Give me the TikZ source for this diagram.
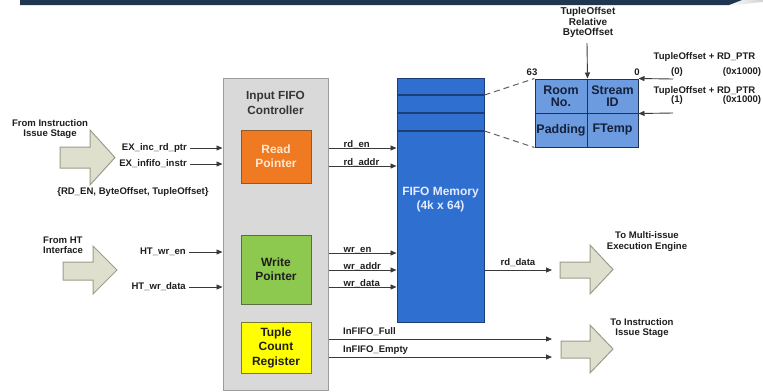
\documentclass[tikz,border=0pt]{standalone}
\usepackage{fontspec}
\setmainfont{Liberation Sans}
\usetikzlibrary{arrows.meta}
\definecolor{linec}{HTML}{3A3A3A}
\definecolor{txt}{HTML}{1E1E1E}
\definecolor{ctrlfill}{HTML}{D9D9D9}
\definecolor{ctrldraw}{HTML}{9C9C9C}
\definecolor{orfill}{HTML}{F07A22}
\definecolor{ordraw}{HTML}{8A5A30}
\definecolor{orText}{HTML}{FDE8D2}
\definecolor{grfill}{HTML}{8DC84F}
\definecolor{grdraw}{HTML}{5A6E40}
\definecolor{yefill}{HTML}{FFFF00}
\definecolor{yedraw}{HTML}{7A7A30}
\definecolor{memfill}{HTML}{2F6FCF}
\definecolor{memdraw}{HTML}{1C3E78}
\definecolor{memText}{HTML}{E4ECFF}
\definecolor{recfill}{HTML}{6C9BDF}
\definecolor{recdraw}{HTML}{23324E}
\definecolor{recText}{HTML}{15203A}
\definecolor{arrfill}{HTML}{DEDFCC}
\definecolor{arrdraw}{HTML}{9C9C8C}
\definecolor{banner}{HTML}{203650}
\begin{document}
\begin{tikzpicture}[x=1bp,y=-1bp,
  sig/.style={draw=linec, line width=0.9bp, -{Triangle[length=6bp,width=5bp]}},
  lbl/.style={font=\bfseries\fontsize{9.6}{10.5}\selectfont, text=txt, inner sep=0pt, align=center},
  siglbl/.style={lbl, text height=7bp, text depth=2bp},
  blk/.style={draw, line width=1bp, inner sep=0pt, align=center,
    font=\bfseries\fontsize{12}{14}\selectfont},
  cell/.style={blk, fill=recfill, draw=recdraw, text=recText,
    font=\bfseries\fontsize{12.5}{12}\selectfont, minimum height=34bp},
  barrow/.style={fill=arrfill, draw=arrdraw, line width=1bp, line join=miter},
  dashline/.style={draw=linec!80, line width=1bp, dash pattern=on 6bp off 4bp}
]
\useasboundingbox (0,0) rectangle (763,391);

% top banner
\shade[left color=white, right color=gray!35] (726,0) -- (763,0) -- (763,2) .. controls (750,3) and (740,5) .. (728,6) -- cycle;
\fill[banner] (20,0) -- (742,0) -- (729,5) -- (20,5) -- cycle;

% block arrows
\draw[barrow] (60,147) -- (90,147) -- (90,130) -- (115,157.5) -- (90,185) -- (90,168) -- (60,168) -- cycle;
\draw[barrow] (63,262) -- (93,262) -- (93,246) -- (117,270) -- (93,294) -- (93,280) -- (63,280) -- cycle;
\draw[barrow] (560,262) -- (590,262) -- (590,245) -- (613,269.5) -- (590,294) -- (590,278) -- (560,278) -- cycle;
\draw[barrow] (561,341) -- (590,341) -- (590,325) -- (613,349) -- (590,373) -- (590,358) -- (561,358) -- cycle;

% left texts
\node[lbl] (fromii) at (50,129) {From Instruction\\Issue Stage};
\node[lbl] (fields) at (133,192) {\{RD\_EN, ByteOffset, TupleOffset\}};
\node[lbl, align=left, anchor=west] (fromht) at (43,245) {From HT\\Interface};

% controller
\node[blk, fill=ctrlfill, draw=ctrldraw, minimum width=105bp, minimum height=312bp] (ctrl) at (275.5,234) {};
\node[lbl, font=\bfseries\fontsize{11.8}{15}\selectfont, text=txt!90] (ctrlt) at (275.5,102.5) {Input FIFO\\Controller};
\node[blk, fill=orfill, draw=ordraw, text=orText, minimum width=70bp, minimum height=53bp] (rp) at (276,156.5) {Read\\Pointer};
\node[blk, fill=grfill, draw=grdraw, text=txt, minimum width=70bp, minimum height=69bp] (wp) at (276,269.5) {Write\\Pointer};
\node[blk, fill=yefill, draw=yedraw, text=txt, minimum width=70bp, minimum height=51bp,
  font=\bfseries\fontsize{12}{14.5}\selectfont] (tc) at (276,347.5) {Tuple\\Count\\Register};

% memory
\node[blk, fill=memfill, draw=memdraw, minimum width=87bp, minimum height=244bp] (mem) at (440.5,200) {};
\node[lbl, font=\bfseries\fontsize{12}{14}\selectfont, text=memText] (memt) at (440.5,200) {FIFO Memory\\(4k x 64)};
\draw[memdraw, line width=1.2bp] (mem.west |- 0,95) -- (mem.east |- 0,95);
\draw[memdraw, line width=1.2bp] (mem.west |- 0,113) -- (mem.east |- 0,113);
\draw[memdraw, line width=1.2bp] (mem.west |- 0,131) -- (mem.east |- 0,131);

% record
\node[cell, minimum width=52bp] (c1) at (561,96) {Room\\No.};
\node[cell, minimum width=51bp] (c2) at (612.5,96) {Stream\\ID};
\node[cell, minimum width=52bp] (c3) at (561,130) {Padding};
\node[cell, minimum width=51bp] (c4) at (612.5,130) {FTemp};
\node[lbl] (b63) at (532,72) {63};
\node[lbl] (b0) at (637,72) {0};
\draw[dashline] (mem.east |- 0,95) -- (c1.north west);
\draw[dashline] (mem.east |- 0,131) -- (c3.south west);

\node[lbl, font=\bfseries\fontsize{10}{10.7}\selectfont] (toff) at (588,22.5) {TupleOffset\\Relative\\ByteOffset};
\draw[sig] (toff.south) ++(-1,5) coordinate (tstart) -- (c1.north east);

\node[lbl] (rp0) at (704.5,57) {TupleOffset + RD\_PTR};
\node[lbl] (rp0a) at (677,72) {(0)};
\node[lbl] (rp0b) at (742,72) {(0x1000)};
\node[lbl] (rp1) at (704.5,91) {TupleOffset + RD\_PTR};
\node[lbl] (rp1a) at (677,100.5) {(1)};
\node[lbl] (rp1b) at (742,100.5) {(0x1000)};
\coordinate (in0) at (673,79);
\coordinate (in1) at (673,113);
\draw[sig] (in0) -- (c2.north east);
\draw[sig] (in1) -- (c2.south east);

% left input signals
\node[siglbl, anchor=east] (exinc) at (187,148) {EX\_inc\_rd\_ptr};
\node[siglbl, anchor=east] (exfifo) at (187,164) {EX\_infifo\_instr};
\node[siglbl, anchor=east] (htwen) at (186,252) {HT\_wr\_en};
\node[siglbl, anchor=east] (htwd) at (186,287) {HT\_wr\_data};
\draw[sig, shorten <=3bp] (exinc.east) -- (ctrl.west |- exinc.east);
\draw[sig, shorten <=3bp] (exfifo.east) -- (ctrl.west |- exfifo.east);
\draw[sig, shorten <=3bp] (htwen.east) -- (ctrl.west |- htwen.east);
\draw[sig, shorten <=3bp] (htwd.east) -- (ctrl.west |- htwd.east);

% controller to memory
\foreach \yy/\nm/\tx in {148/rden/rd\_en, 166/rdaddr/rd\_addr, 253/wren/wr\_en, 270/wraddr/wr\_addr, 287/wrdata/wr\_data}{
  \draw[sig] (ctrl.east |- 0,\yy) coordinate (s\nm) -- (mem.west |- 0,\yy);
  \node[siglbl, anchor=south west] (l\nm) at ([xshift=15bp,yshift=-2bp]s\nm) {\tx};
}

% outputs
\coordinate (a3) at (560,270);
\draw[sig, shorten >=8bp] (mem.east |- a3) -- (a3);
\node[siglbl, anchor=south] (lrdd) at (518,268) {rd\_data};
\coordinate (a4a) at (560,339);
\coordinate (a4b) at (560,357);
\draw[sig, shorten >=8bp] (ctrl.east |- a4a) -- (a4a);
\draw[sig, shorten >=8bp] (ctrl.east |- a4b) -- (a4b);
\node[siglbl, anchor=south west] (lfull) at (343,337) {InFIFO\_Full};
\node[siglbl, anchor=south west] (lempty) at (343,355) {InFIFO\_Empty};

\node[lbl] (tomie) at (647,241.5) {To Multi-issue\\Execution Engine};
\node[lbl] (toiis) at (642,328) {To Instruction\\Issue Stage};
\end{tikzpicture}
\end{document}
